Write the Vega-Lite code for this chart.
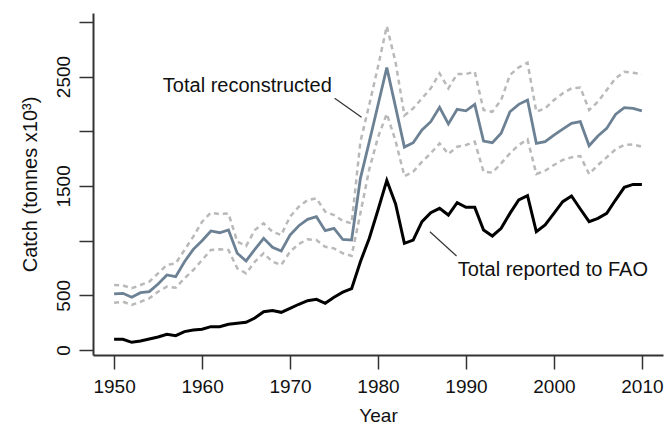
{
  "$schema": "https://vega.github.io/schema/vega-lite/v6.json",
  "width": 570,
  "height": 342,
  "autosize": "none",
  "padding": {"left": 93, "top": 13, "right": 2, "bottom": 73},
  "background": "white",
  "config": {
    "view": {"stroke": null},
    "font": "Liberation Sans",
    "axis": {"grid": false, "domainColor": "#333333", "tickColor": "#333333", "domainWidth": 2, "tickWidth": 1.5, "tickSize": 14, "labelFont": "Liberation Sans", "titleFont": "Liberation Sans", "labelColor": "#111111", "titleColor": "#111111", "labelFontSize": 19, "titleFontSize": 19, "titleFontWeight": "normal"}
  },
  "datasets": {
    "catch": [
      {"year": 1950, "fao": 98, "recon": 512, "upper": 594, "lower": 432},
      {"year": 1951, "fao": 98, "recon": 518, "upper": 590, "lower": 441},
      {"year": 1952, "fao": 70, "recon": 482, "upper": 564, "lower": 411},
      {"year": 1953, "fao": 82, "recon": 524, "upper": 594, "lower": 441},
      {"year": 1954, "fao": 100, "recon": 533, "upper": 624, "lower": 472},
      {"year": 1955, "fao": 119, "recon": 603, "upper": 701, "lower": 533},
      {"year": 1956, "fao": 143, "recon": 686, "upper": 777, "lower": 579},
      {"year": 1957, "fao": 131, "recon": 670, "upper": 792, "lower": 570},
      {"year": 1958, "fao": 168, "recon": 807, "upper": 914, "lower": 655},
      {"year": 1959, "fao": 183, "recon": 920, "upper": 1036, "lower": 731},
      {"year": 1960, "fao": 189, "recon": 999, "upper": 1173, "lower": 823},
      {"year": 1961, "fao": 213, "recon": 1088, "upper": 1255, "lower": 914},
      {"year": 1962, "fao": 213, "recon": 1072, "upper": 1243, "lower": 920},
      {"year": 1963, "fao": 235, "recon": 1097, "upper": 1249, "lower": 914},
      {"year": 1964, "fao": 244, "recon": 884, "upper": 990, "lower": 747},
      {"year": 1965, "fao": 253, "recon": 814, "upper": 950, "lower": 700},
      {"year": 1966, "fao": 292, "recon": 920, "upper": 1097, "lower": 807},
      {"year": 1967, "fao": 350, "recon": 1021, "upper": 1158, "lower": 884},
      {"year": 1968, "fao": 360, "recon": 939, "upper": 1081, "lower": 807},
      {"year": 1969, "fao": 344, "recon": 905, "upper": 1051, "lower": 777},
      {"year": 1970, "fao": 381, "recon": 1051, "upper": 1219, "lower": 899},
      {"year": 1971, "fao": 418, "recon": 1136, "upper": 1310, "lower": 969},
      {"year": 1972, "fao": 451, "recon": 1194, "upper": 1371, "lower": 1012},
      {"year": 1973, "fao": 463, "recon": 1219, "upper": 1386, "lower": 1005},
      {"year": 1974, "fao": 427, "recon": 1091, "upper": 1264, "lower": 944},
      {"year": 1975, "fao": 482, "recon": 1112, "upper": 1234, "lower": 929},
      {"year": 1976, "fao": 528, "recon": 1010, "upper": 1180, "lower": 884},
      {"year": 1977, "fao": 560, "recon": 1005, "upper": 1158, "lower": 860},
      {"year": 1978, "fao": 807, "recon": 1569, "upper": 1904, "lower": 1250},
      {"year": 1979, "fao": 1020, "recon": 1900, "upper": 2240, "lower": 1650},
      {"year": 1980, "fao": 1280, "recon": 2240, "upper": 2590, "lower": 1945},
      {"year": 1981, "fao": 1550, "recon": 2582, "upper": 2960, "lower": 2160},
      {"year": 1982, "fao": 1335, "recon": 2220, "upper": 2630, "lower": 1910},
      {"year": 1983, "fao": 975, "recon": 1855, "upper": 2145, "lower": 1590},
      {"year": 1984, "fao": 1005, "recon": 1895, "upper": 2209, "lower": 1630},
      {"year": 1985, "fao": 1173, "recon": 2011, "upper": 2300, "lower": 1721},
      {"year": 1986, "fao": 1255, "recon": 2087, "upper": 2392, "lower": 1798},
      {"year": 1987, "fao": 1295, "recon": 2218, "upper": 2529, "lower": 1889},
      {"year": 1988, "fao": 1234, "recon": 2066, "upper": 2392, "lower": 1792},
      {"year": 1989, "fao": 1347, "recon": 2200, "upper": 2523, "lower": 1858},
      {"year": 1990, "fao": 1304, "recon": 2187, "upper": 2523, "lower": 1874},
      {"year": 1991, "fao": 1304, "recon": 2246, "upper": 2544, "lower": 1904},
      {"year": 1992, "fao": 1097, "recon": 1910, "upper": 2194, "lower": 1630},
      {"year": 1993, "fao": 1042, "recon": 1895, "upper": 2178, "lower": 1621},
      {"year": 1994, "fao": 1112, "recon": 1981, "upper": 2285, "lower": 1706},
      {"year": 1995, "fao": 1249, "recon": 2178, "upper": 2514, "lower": 1798},
      {"year": 1996, "fao": 1371, "recon": 2246, "upper": 2584, "lower": 1874},
      {"year": 1997, "fao": 1411, "recon": 2285, "upper": 2626, "lower": 1926},
      {"year": 1998, "fao": 1081, "recon": 1889, "upper": 2178, "lower": 1609},
      {"year": 1999, "fao": 1143, "recon": 1904, "upper": 2209, "lower": 1639},
      {"year": 2000, "fao": 1249, "recon": 1965, "upper": 2285, "lower": 1691},
      {"year": 2001, "fao": 1356, "recon": 2020, "upper": 2346, "lower": 1737},
      {"year": 2002, "fao": 1408, "recon": 2072, "upper": 2392, "lower": 1761},
      {"year": 2003, "fao": 1289, "recon": 2087, "upper": 2400, "lower": 1773},
      {"year": 2004, "fao": 1173, "recon": 1867, "upper": 2194, "lower": 1609},
      {"year": 2005, "fao": 1204, "recon": 1956, "upper": 2270, "lower": 1691},
      {"year": 2006, "fao": 1249, "recon": 2026, "upper": 2377, "lower": 1761},
      {"year": 2007, "fao": 1371, "recon": 2154, "upper": 2483, "lower": 1834},
      {"year": 2008, "fao": 1487, "recon": 2215, "upper": 2544, "lower": 1874},
      {"year": 2009, "fao": 1514, "recon": 2209, "upper": 2535, "lower": 1880},
      {"year": 2010, "fao": 1514, "recon": 2187, "upper": 2523, "lower": 1858}
    ],
    "labels": [
      {"year": 1955.54, "value": 2413, "text": "Total reconstructed"},
      {"year": 1989.08, "value": 731, "text": "Total reported to FAO"}
    ],
    "leaders": [
      {"year": 1975.07, "value": 2301, "year2": 1978.13, "value2": 2127},
      {"year": 1985.9, "value": 1081, "year2": 1988.93, "value2": 859}
    ]
  },
  "layer": [
    {
      "data": {"name": "catch"},
      "mark": {"type": "line", "color": "#b9b9b9", "strokeWidth": 2.5, "strokeDash": [5, 4]},
      "encoding": {
        "x": {"field": "year", "type": "quantitative", "scale": {"domain": [1947.6, 2012.4], "nice": false, "zero": false},
              "axis": {"values": [1950, 1960, 1970, 1980, 1990, 2000, 2010], "format": "d", "title": "Year", "labelPadding": 8, "titlePadding": 10}},
        "y": {"field": "upper", "type": "quantitative", "scale": {"domain": [-46, 3081], "nice": false, "zero": false},
              "axis": {"values": [0, 500, 1000, 1500, 2000, 2500, 3000], "labelExpr": "(datum.value == 1000 || datum.value == 2000 || datum.value == 3000) ? '' : datum.label", "format": "d", "labelAngle": 270, "labelPadding": 6, "title": "Catch (tonnes x10³)", "titleX": -63, "titleY": 171, "titleBaseline": "middle", "titleFontSize": 20}}
      }
    },
    {
      "data": {"name": "catch"},
      "mark": {"type": "line", "color": "#b9b9b9", "strokeWidth": 2.5, "strokeDash": [5, 4]},
      "encoding": {
        "x": {"field": "year", "type": "quantitative"},
        "y": {"field": "lower", "type": "quantitative"}
      }
    },
    {
      "data": {"name": "catch"},
      "mark": {"type": "line", "color": "#6c8194", "strokeWidth": 2.8},
      "encoding": {
        "x": {"field": "year", "type": "quantitative"},
        "y": {"field": "recon", "type": "quantitative"}
      }
    },
    {
      "data": {"name": "catch"},
      "mark": {"type": "line", "color": "#000000", "strokeWidth": 3},
      "encoding": {
        "x": {"field": "year", "type": "quantitative"},
        "y": {"field": "fao", "type": "quantitative"}
      }
    },
    {
      "data": {"name": "leaders"},
      "mark": {"type": "rule", "color": "#333333", "strokeWidth": 1.2},
      "encoding": {
        "x": {"field": "year", "type": "quantitative"},
        "y": {"field": "value", "type": "quantitative"},
        "x2": {"field": "year2"},
        "y2": {"field": "value2"}
      }
    },
    {
      "data": {"name": "labels"},
      "mark": {"type": "text", "align": "left", "baseline": "middle", "fontSize": 20, "font": "Liberation Sans", "color": "#111111"},
      "encoding": {
        "x": {"field": "year", "type": "quantitative"},
        "y": {"field": "value", "type": "quantitative"},
        "text": {"field": "text", "type": "nominal"}
      }
    }
  ]
}
